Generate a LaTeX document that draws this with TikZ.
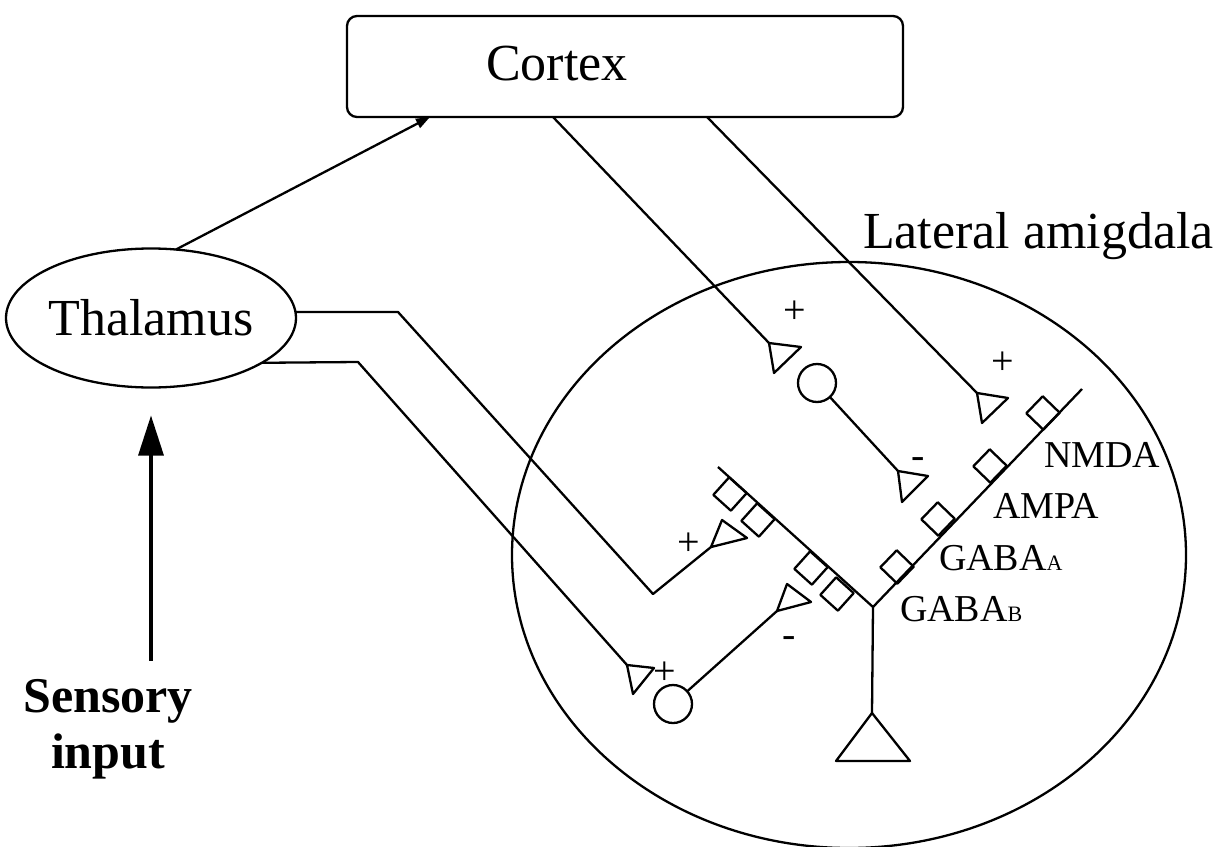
\documentclass[tikz,border=0pt]{standalone}
\usepackage{fontspec}
\setmainfont{Liberation Serif}
\usetikzlibrary{arrows.meta,calc,shapes.geometric}
\begin{document}
\begin{tikzpicture}[x=0.5pt,y=-0.5pt,line width=1.15pt,line join=round,
  every node/.style={inner sep=0pt,outer sep=0pt},
  big/.style={font=\fontsize{26}{30}\selectfont},
  lbl/.style={font=\fontsize{19}{22}\selectfont,anchor=base west},
  sgn/.style={font=\fontsize{20}{22}\selectfont},
  sq/.style={draw,rectangle,minimum size=11.8pt},
  soma/.style={draw,circle,minimum size=19pt}]
\useasboundingbox (0,0) rectangle (1215,846);

% main structures
\node[draw,rounded corners=5pt,minimum width=278pt,minimum height=50.5pt] (cortex) at (625,66.5) {};
\node[big,anchor=base west] (cortextxt) at (486,80) {Cortex};
\node[draw,ellipse,minimum width=141.5pt,minimum height=69.5pt,big] (thal) at (151,318) {Thalamus};
\node[draw,ellipse,minimum width=337pt,minimum height=293pt] (amyg) at (849,555) {};
\node[big,anchor=base west] (lat) at (863,248) {Lateral amigdala};
\node[font=\fontsize{25}{28}\selectfont\bfseries,anchor=base] (sens1) at (108,712) {Sensory};
\node[font=\fontsize{25}{28}\selectfont\bfseries,anchor=base] (sens2) at (108,768) {input};

% arrows
\draw[line width=1.6pt,-{Triangle[length=20pt,width=12.5pt]},shorten <=9pt,shorten >=14pt]
  (sens1.north -| thal.south) -- (thal.south);
\draw[-{Triangle[length=7pt,width=5pt]}] (thal.70) -- ($(cortex.south west)+(83,0)$);

% terminals (triangles)
\coordinate (t1a) at (769,343); \coordinate (t1b) at (801,347); \coordinate (t1c) at (774,373);
\coordinate (t2a) at (898,471); \coordinate (t2b) at (928,476); \coordinate (t2c) at (902,502);
\coordinate (t3a) at (977,393); \coordinate (t3b) at (1008,398); \coordinate (t3c) at (982,423);
\coordinate (t4a) at (722,520); \coordinate (t4b) at (747,538); \coordinate (t4c) at (711,547);
\coordinate (t5a) at (787,584); \coordinate (t5b) at (811,602); \coordinate (t5c) at (777,611);
\coordinate (t6a) at (627,665); \coordinate (t6b) at (654,668); \coordinate (t6c) at (633,694);
\foreach \t in {t1,t2,t3,t4,t5,t6}{\draw (\t a) -- (\t b) -- (\t c) -- cycle;}

% interneurons
\node[soma] (c1) at (817,383) {};
\node[soma] (c2) at (673,704) {};

% cortex projections
\draw ($(cortex.south west)+(206,0)$) -- (t1a);
\draw ($(cortex.south west)+(360,0)$) -- (t3a);
\draw (c1) -- (t2a);
\draw (c2) -- (t5c);

% thalamic projections
\coordinate (b1) at (398,312); \coordinate (b2) at (653,594);
\coordinate (b3) at (358,362);
\draw (b1 -| thal.east) -- (b1) -- (b2) -- (t4c);
\draw (thal.-22) -- (b3) -- (t6a);

% principal neuron dendrites
\coordinate (dr) at (1082,389); \coordinate (dl) at (718,467); \coordinate (dj) at (873,607);
\coordinate (s1) at (872,713); \coordinate (s2) at (836,761); \coordinate (s3) at (910,761);
\draw (dr) -- (dj) -- (dl);
\draw (dj) -- (s1);
\draw (s1) -- (s2) -- (s3) -- cycle;

% receptors
\node[sq,rotate=46] (r1) at (1043,413) {};
\node[sq,rotate=46] (r2) at (990,466) {};
\node[sq,rotate=46] (r3) at (938,519) {};
\node[sq,rotate=46] (r4) at (897,567) {};
\node[sq,rotate=-42] (l1) at (730,494) {};
\node[sq,rotate=-42] (l2) at (758,520) {};
\node[sq,rotate=-42] (l3) at (811,568) {};
\node[sq,rotate=-42] (l4) at (837,594) {};

% receptor labels
\node[lbl] (nmda) at (1044,467) {NMDA};
\node[lbl] (ampa) at (993,518) {AMPA};
\node[lbl] (gabaa) at (939,570) {GABA{\fontsize{11}{12}\selectfont A}};
\node[lbl] (gabab) at (900,621) {GABA{\fontsize{11}{12}\selectfont B}};

% signs
\node[sgn] (p1) at (795,312) {+};
\node[sgn] (m2) at (918,463) {-};
\node[sgn] (p3) at (1003,363) {+};
\node[sgn] (p4) at (689,544) {+};
\node[sgn] (m5) at (789,642) {-};
\node[sgn] (p6) at (665,673) {+};
\end{tikzpicture}
\end{document}
